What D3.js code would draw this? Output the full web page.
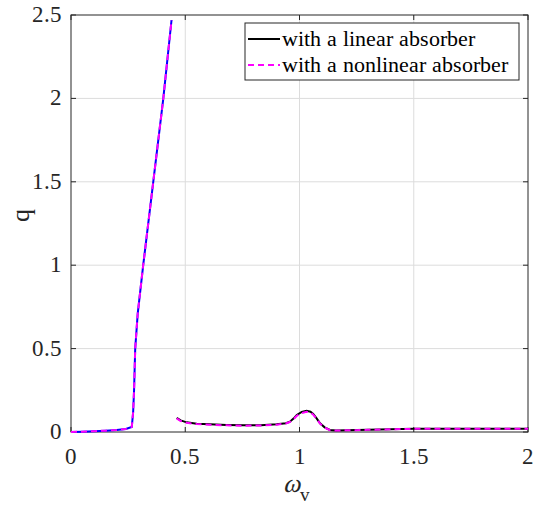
<!DOCTYPE html>
<meta charset="utf-8">
<style>
  @font-face { font-family: "ChartSerif"; src: local("Liberation Serif"), local("LiberationSerif"), local("Times New Roman"); }
  svg text { font-family: "ChartSerif", "Liberation Serif", serif; }
</style>
<body style="margin:0">
<script src="https://d3js.org/d3.v7.min.js"></script>
<script>
// branch 1 (low frequency, unstable growth)
var w1 = [0, 0.05, 0.10, 0.15, 0.20, 0.24, 0.266, 0.272, 0.276, 0.281, 0.292, 0.316, 0.360, 0.404, 0.44];
var qLin1 = [0, 0.002, 0.005, 0.008, 0.012, 0.018, 0.03, 0.12, 0.25, 0.5, 0.71, 1.0, 1.5, 2.0, 2.47];
var qNon1 = qLin1.slice();

// branch 2
var w2 = [0.4625, 0.48, 0.506, 0.55, 0.608, 0.68, 0.754, 0.83, 0.90, 0.94, 0.958, 0.975, 0.988, 1.01, 1.031, 1.048, 1.06, 1.075, 1.09, 1.11, 1.133, 1.16, 1.206, 1.3, 1.4, 1.5, 1.6, 1.7, 1.8, 1.9, 2.0];
var qLin2 = [0.085, 0.07, 0.058, 0.05, 0.046, 0.042, 0.040, 0.041, 0.046, 0.053, 0.062, 0.082, 0.102, 0.12, 0.127, 0.122, 0.108, 0.082, 0.052, 0.028, 0.012, 0.009, 0.01, 0.013, 0.016, 0.019, 0.019, 0.02, 0.019, 0.019, 0.019];
var qNon2 = [0.082, 0.066, 0.055, 0.048, 0.044, 0.040, 0.038, 0.039, 0.044, 0.051, 0.06, 0.078, 0.097, 0.114, 0.121, 0.117, 0.104, 0.079, 0.05, 0.027, 0.011, 0.009, 0.01, 0.013, 0.016, 0.019, 0.019, 0.02, 0.019, 0.019, 0.019];

var xTicks = [0, 0.5, 1, 1.5, 2];
var yTicks = [0, 0.5, 1, 1.5, 2, 2.5];
var legendLabels = ["with a linear absorber", "with a nonlinear absorber"];

var W = 533, H = 512;
var margin = {left: 71, right: 5, top: 15, bottom: 80};
var width = W - margin.left - margin.right,
    height = H - margin.top - margin.bottom;

var svg = d3.select("body").append("svg")
    .attr("width", W).attr("height", H);
var g = svg.append("g")
    .attr("transform", "translate(" + margin.left + "," + margin.top + ")");

var x = d3.scaleLinear().domain([0, 2]).range([0, width]);
var y = d3.scaleLinear().domain([0, 2.5]).range([height, 0]);

function serif(sel, size) {
  return sel.style("font-size", size + "px");
}

// grid
g.append("g").selectAll("line").data(xTicks.slice(1, -1)).enter().append("line")
  .attr("x1", d => x(d)).attr("x2", d => x(d))
  .attr("y1", 0).attr("y2", height)
  .attr("stroke", "#dcdcdc").attr("stroke-width", 1);
g.append("g").selectAll("line").data(yTicks.slice(1, -1)).enter().append("line")
  .attr("x1", 0).attr("x2", width)
  .attr("y1", d => y(d)).attr("y2", d => y(d))
  .attr("stroke", "#dcdcdc").attr("stroke-width", 1);

// axes box with inward ticks
g.append("rect").attr("width", width).attr("height", height)
  .attr("fill", "none").attr("stroke", "#262626").attr("stroke-width", 1);
xTicks.forEach(function(t) {
  g.append("line").attr("x1", x(t)).attr("x2", x(t)).attr("y1", height).attr("y2", height - 5).attr("stroke", "#262626");
  g.append("line").attr("x1", x(t)).attr("x2", x(t)).attr("y1", 0).attr("y2", 5).attr("stroke", "#262626");
  serif(g.append("text"), 23).attr("x", x(t)).attr("y", height + 32)
    .attr("text-anchor", "middle").attr("fill", "#262626").text(t);
});
yTicks.forEach(function(t) {
  g.append("line").attr("x1", 0).attr("x2", 5).attr("y1", y(t)).attr("y2", y(t)).attr("stroke", "#262626");
  g.append("line").attr("x1", width).attr("x2", width - 5).attr("y1", y(t)).attr("y2", y(t)).attr("stroke", "#262626");
  serif(g.append("text"), 23).attr("x", -9).attr("y", y(t) + 7)
    .attr("text-anchor", "end").attr("fill", "#262626").text(t);
});

// curves
var line = d3.line().x(d => x(d[0])).y(d => y(d[1]));
function pts(ws, qs) { return ws.map((w, i) => [w, qs[i]]); }

g.append("path").datum(pts(w1, qLin1)).attr("d", line)
  .attr("fill", "none").attr("stroke", "#0000ff").attr("stroke-width", 2);
g.append("path").datum(pts(w2, qLin2)).attr("d", line)
  .attr("fill", "none").attr("stroke", "#000").attr("stroke-width", 2);
g.append("path").datum(pts(w1, qNon1)).attr("d", line)
  .attr("fill", "none").attr("stroke", "#ff00ff").attr("stroke-width", 2)
  .attr("stroke-dasharray", "6,4");
g.append("path").datum(pts(w2, qNon2)).attr("d", line)
  .attr("fill", "none").attr("stroke", "#ff00ff").attr("stroke-width", 2)
  .attr("stroke-dasharray", "6,4");

// axis labels
serif(svg.append("text"), 26).attr("x", 20).attr("y", 215)
  .attr("text-anchor", "middle").attr("transform", "rotate(-90,20,215)")
  .attr("dy", "0.35em").attr("fill", "#262626").text("q");
var xl = serif(svg.append("text"), 26).attr("x", 283).attr("y", 492)
  .attr("fill", "#262626");
xl.append("tspan").style("font-style", "italic").text("ω");
xl.append("tspan").attr("dy", 9).style("font-size", "19px").text("v");

// legend
var lg = svg.append("g").attr("transform", "translate(245,23)");
lg.append("rect").attr("width", 274).attr("height", 57)
  .attr("fill", "#fff").attr("stroke", "#262626").attr("stroke-width", 1);
var legStyles = [{c: "#000", dash: null}, {c: "#ff00ff", dash: "6,4"}];
legendLabels.forEach(function(t, i) {
  var yy = 16 + i * 26;
  lg.append("line").attr("x1", 3).attr("x2", 35).attr("y1", yy).attr("y2", yy)
    .attr("stroke", legStyles[i].c).attr("stroke-width", 2)
    .attr("stroke-dasharray", legStyles[i].dash);
  serif(lg.append("text"), 22).attr("x", 37).attr("y", yy + 7)
    .attr("fill", "#000").text(t);
});
</script>
</body>
